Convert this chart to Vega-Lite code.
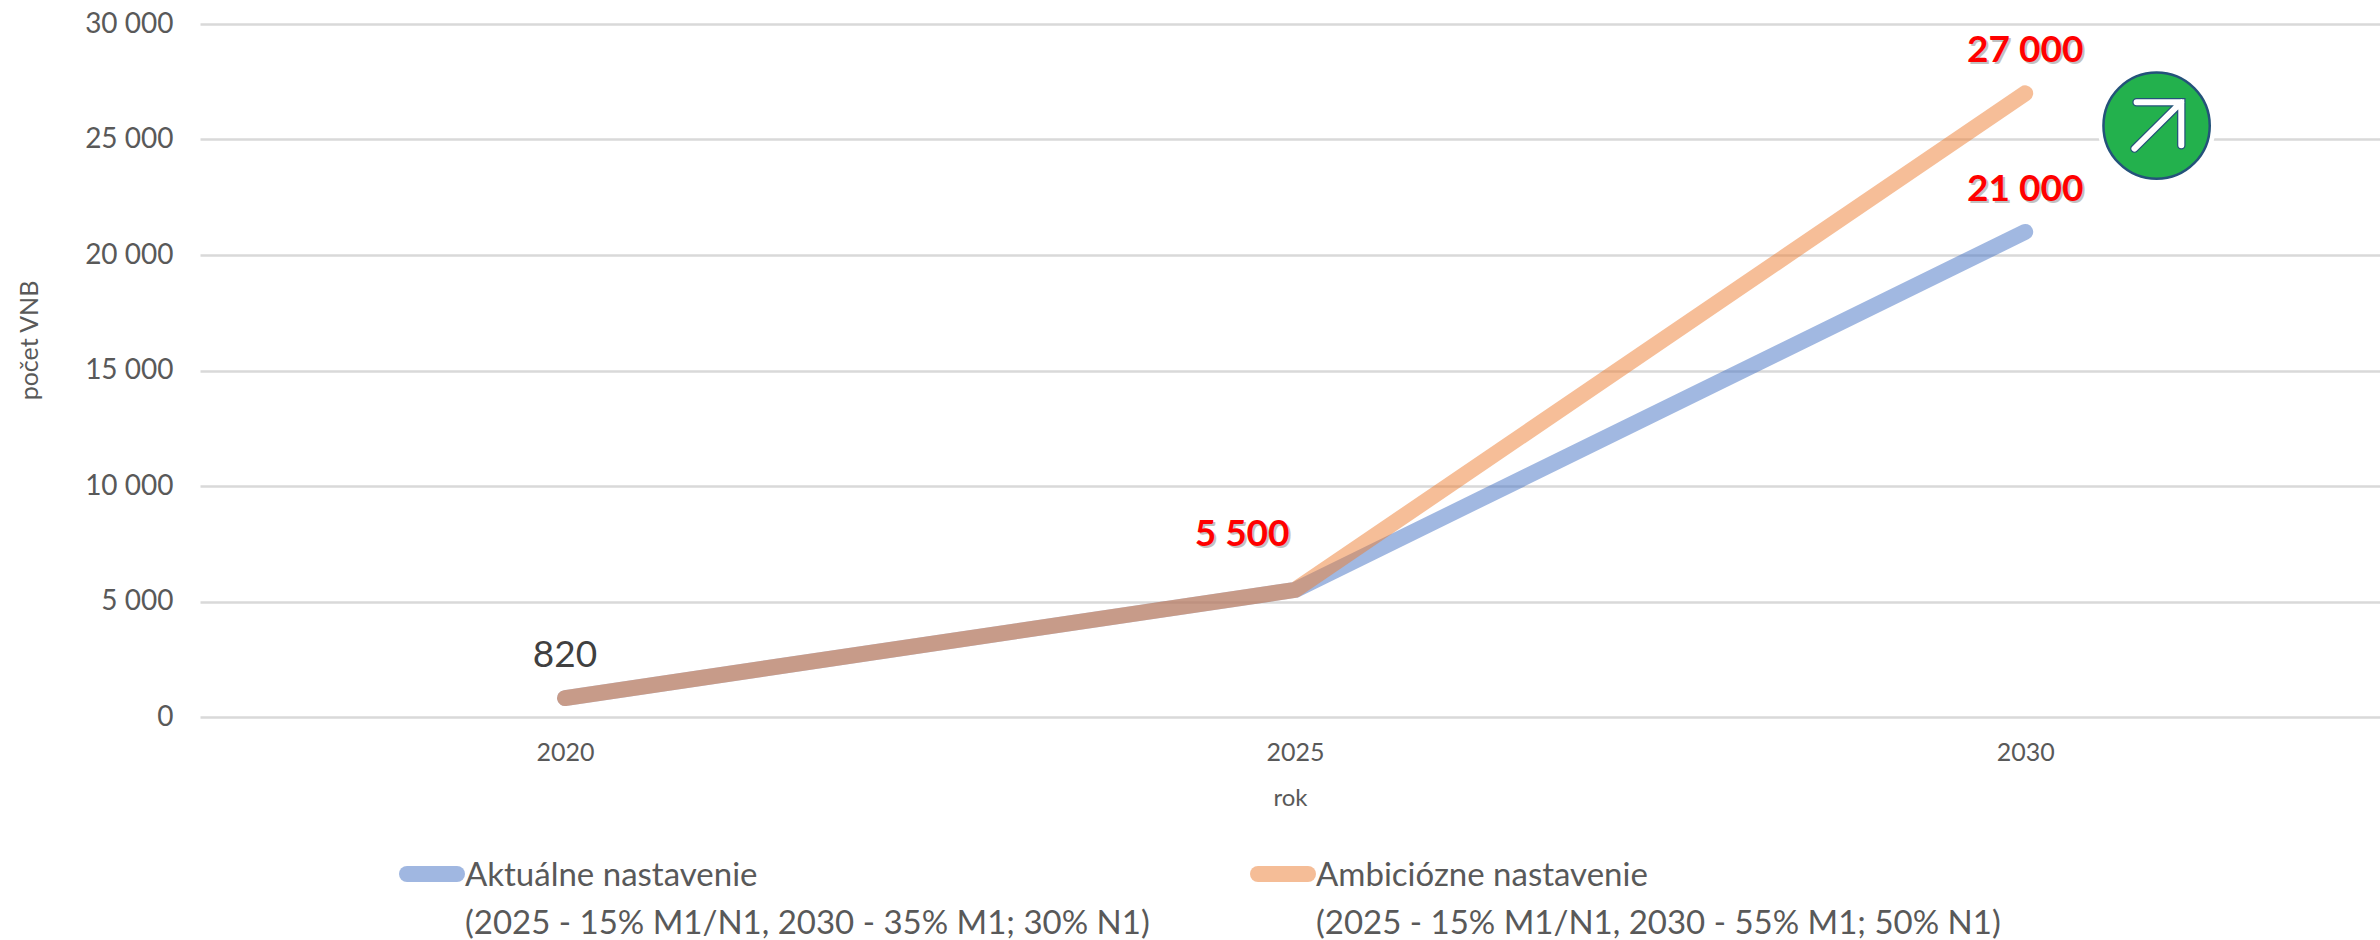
{"$schema":"https://vega.github.io/schema/vega-lite/v6.json","width":2180,"height":693,"autosize":{"type":"none"},"padding":{"left":200,"top":24,"right":0,"bottom":223},"background":"white","config":{"view":{"stroke":null},"font":"Lato"},
"datasets":{"series":[
{"rok":2020,"pocet":820,"scenar":"Aktuálne nastavenie\n(2025 - 15% M1/N1, 2030 - 35% M1; 30% N1)"},
{"rok":2025,"pocet":5500,"scenar":"Aktuálne nastavenie\n(2025 - 15% M1/N1, 2030 - 35% M1; 30% N1)"},
{"rok":2030,"pocet":21000,"scenar":"Aktuálne nastavenie\n(2025 - 15% M1/N1, 2030 - 35% M1; 30% N1)"},
{"rok":2020,"pocet":820,"scenar":"Ambiciózne nastavenie\n(2025 - 15% M1/N1, 2030 - 55% M1; 50% N1)"},
{"rok":2025,"pocet":5500,"scenar":"Ambiciózne nastavenie\n(2025 - 15% M1/N1, 2030 - 55% M1; 50% N1)"},
{"rok":2030,"pocet":27000,"scenar":"Ambiciózne nastavenie\n(2025 - 15% M1/N1, 2030 - 55% M1; 50% N1)"}],
"badge":[{"rok":2030.9,"pocet":25600}]},
"encoding":{"x":{"field":"rok","type":"quantitative","scale":{"domain":[2017.5,2032.43],"nice":false,"zero":false}},"y":{"field":"pocet","type":"quantitative","scale":{"domain":[0,30000],"nice":false}}},
"layer":[
{"data":{"name":"series"},"mark":{"type":"line","strokeWidth":16,"strokeCap":"round","strokeJoin":"round","opacity":0.5,"clip":false},
"encoding":{
"x":{"field":"rok","type":"quantitative","axis":{"values":[2020,2025,2030],"format":"d","domain":false,"ticks":false,"grid":false,"labelFontSize":25,"labelColor":"#595959","labelPadding":23,"title":"rok","titleFontSize":24,"titleFontWeight":"normal","titleColor":"#595959","titlePadding":21}},
"y":{"field":"pocet","type":"quantitative","axis":{"values":[0,5000,10000,15000,20000,25000,30000],"labelExpr":"replace(format(datum.value,','),',',' ')","domain":false,"ticks":false,"grid":true,"gridColor":"#d9d9d9","gridWidth":2.5,"labelFontSize":28,"labelColor":"#595959","labelPadding":27,"title":"počet VNB","titleFontSize":25,"titleFontWeight":"normal","titleColor":"#595959","titleX":-158,"titleY":316}},
"color":{"field":"scenar","type":"nominal","sort":null,"scale":{"domain":["Aktuálne nastavenie\n(2025 - 15% M1/N1, 2030 - 35% M1; 30% N1)","Ambiciózne nastavenie\n(2025 - 15% M1/N1, 2030 - 55% M1; 50% N1)"],"range":["#4472C4","#ED7D31"]},
"legend":{"title":null,"orient":"none","legendX":199,"legendY":817,"direction":"horizontal","columns":2,"symbolType":"stroke","symbolSize":2500,"symbolStrokeWidth":16,"symbolOpacity":0.5,"labelFontSize":33,"labelColor":"#595959","labelLimit":900,"labelOffset":0,"columnPadding":76,"labelExpr":"split(datum.label,'\\n')","labelBaseline":"alphabetic","encoding":{"labels":{"dy":{"value":12},"lineHeight":{"value":48}},"symbols":{"strokeCap":{"value":"round"}}}}}}},
{"data":{"name":"series"},"transform":[{"filter":"datum.rok==2020 && datum.scenar[1]=='k'"}],"mark":{"type":"text","fontSize":37,"color":"#404040","dy":-42},"encoding":{"text":{"field":"pocet","type":"quantitative"}}},
{"data":{"name":"series"},"transform":[{"filter":"datum.rok==2025 && datum.scenar[1]=='k'"},{"calculate":"replace(format(datum.pocet,','),',',' ')","as":"popis"}],"mark":{"type":"text","fontSize":37,"fontWeight":"bold","color":"#999999","opacity":0.6,"dx":-51,"dy":-53},"encoding":{"text":{"field":"popis"}}},
{"data":{"name":"series"},"transform":[{"filter":"datum.rok==2025 && datum.scenar[1]=='k'"},{"calculate":"replace(format(datum.pocet,','),',',' ')","as":"popis"}],"mark":{"type":"text","fontSize":37,"fontWeight":"bold","color":"#ff0000","dx":-53,"dy":-55},"encoding":{"text":{"field":"popis"}}},
{"data":{"name":"series"},"transform":[{"filter":"datum.rok==2030"},{"calculate":"replace(format(datum.pocet,','),',',' ')","as":"popis"}],"mark":{"type":"text","fontSize":37,"fontWeight":"bold","color":"#999999","opacity":0.6,"dx":2,"dy":-40},"encoding":{"text":{"field":"popis"}}},
{"data":{"name":"series"},"transform":[{"filter":"datum.rok==2030"},{"calculate":"replace(format(datum.pocet,','),',',' ')","as":"popis"}],"mark":{"type":"text","fontSize":37,"fontWeight":"bold","color":"#ff0000","dy":-42},"encoding":{"text":{"field":"popis"}}},
{"data":{"name":"badge"},"mark":{"type":"point","shape":"circle","filled":true,"color":"white","size":14000,"opacity":1}},
{"data":{"name":"badge"},"mark":{"type":"point","shape":"circle","filled":true,"fill":"#23b14d","stroke":"#24527a","strokeWidth":2.5,"size":11300,"opacity":1}},
{"data":{"name":"badge"},"mark":{"type":"point","shape":"M-0.85,0.88L0.95,-0.9M-0.77,-0.9H0.95V0.75","filled":false,"stroke":"#24527a","strokeWidth":8.5,"strokeCap":"round","size":2704,"opacity":1}},
{"data":{"name":"badge"},"mark":{"type":"point","shape":"M-0.85,0.88L0.95,-0.9M-0.77,-0.9H0.95V0.75","filled":false,"stroke":"white","strokeWidth":6,"strokeCap":"round","size":2704,"opacity":1}}
]}
